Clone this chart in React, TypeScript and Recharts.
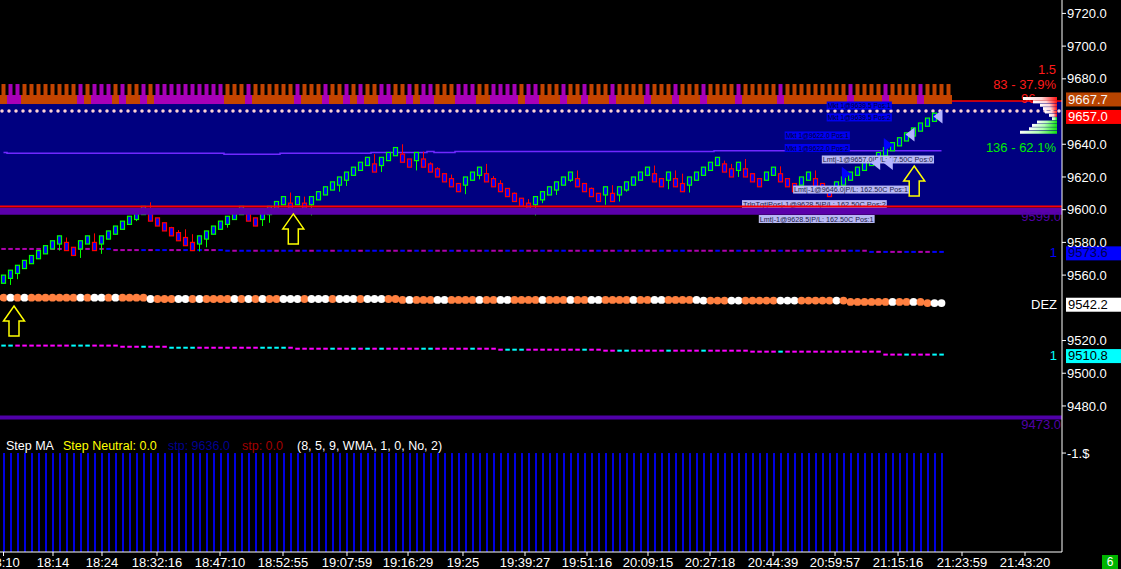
import React from 'react';
import {
  ComposedChart,
  BarChart,
  Bar,
  Line,
  Scatter,
  XAxis,
  YAxis,
  ReferenceLine,
  ReferenceArea,
  Cell,
} from 'recharts';

const FONT = "'Liberation Sans', Arial, sans-serif";

// price scale of the main pane
const PRICE_MIN = 9465.3;
const PRICE_MAX = 9728.2;
// 9540 and 9660 sit under the DEZ / last-price tags in the original
const priceTicks = [9480, 9500, 9520, 9560, 9580, 9600, 9620, 9640, 9680, 9700, 9720];
const SLOT_DOMAIN: [number, number] = [-0.5, 151.214];

// candles (one per slot)
const opens = [
  9555, 9558, 9561, 9564, 9567, 9570, 9573, 9576, 9579, 9580,
  9577, 9576, 9579, 9580, 9579, 9582, 9585, 9588, 9591, 9594,
  9597, 9598, 9595, 9592, 9589, 9586, 9583, 9580, 9579, 9582,
  9585, 9588, 9591, 9594, 9597, 9598, 9595, 9594, 9597, 9600,
  9603, 9604, 9603, 9604, 9603, 9606, 9609, 9612, 9615, 9618,
  9621, 9624, 9627, 9628, 9627, 9630, 9633, 9634, 9631, 9630,
  9631, 9628, 9625, 9622, 9619, 9616, 9615, 9618, 9621, 9622,
  9619, 9616, 9613, 9610, 9607, 9604, 9603, 9606, 9609, 9612,
  9615, 9618, 9619, 9616, 9613, 9610, 9609, 9610, 9609, 9612,
  9615, 9618, 9621, 9622, 9619, 9618, 9619, 9616, 9615, 9618,
  9621, 9624, 9627, 9628, 9625, 9624, 9625, 9622, 9619, 9618,
  9621, 9622, 9619, 9616, 9615, 9618, 9619, 9616, 9613, 9612,
  9615, 9618, 9621, 9624, 9627, 9630, 9633, 9636, 9639, 9642,
  9645, 9648, 9651, 9654,
];
const closes = [
  9560, 9563, 9566, 9569, 9572, 9575, 9578, 9581, 9584, 9575,
  9572, 9581, 9584, 9575, 9584, 9587, 9590, 9593, 9596, 9599,
  9602, 9593, 9590, 9587, 9584, 9581, 9578, 9575, 9584, 9587,
  9590, 9593, 9596, 9599, 9602, 9593, 9590, 9599, 9602, 9605,
  9608, 9599, 9608, 9599, 9608, 9611, 9614, 9617, 9620, 9623,
  9626, 9629, 9632, 9623, 9632, 9635, 9638, 9629, 9626, 9635,
  9626, 9623, 9620, 9617, 9614, 9611, 9620, 9623, 9626, 9617,
  9614, 9611, 9608, 9605, 9602, 9599, 9608, 9611, 9614, 9617,
  9620, 9623, 9614, 9611, 9608, 9605, 9614, 9605, 9614, 9617,
  9620, 9623, 9626, 9617, 9614, 9623, 9614, 9611, 9620, 9623,
  9626, 9629, 9632, 9623, 9620, 9629, 9620, 9617, 9614, 9623,
  9626, 9617, 9614, 9611, 9620, 9623, 9614, 9611, 9608, 9617,
  9620, 9623, 9626, 9629, 9632, 9635, 9638, 9641, 9644, 9647,
  9650, 9653, 9656, 9659,
];
const highs = [
  9560, 9563, 9566, 9569, 9572, 9575, 9578, 9581, 9584, 9583,
  9577, 9581, 9584, 9585.5, 9584, 9587, 9590, 9593, 9596, 9599,
  9602, 9604.5, 9595, 9592, 9589.5, 9587.5, 9588, 9585, 9584, 9587,
  9590, 9593, 9596, 9599, 9602, 9598, 9595, 9599, 9602, 9605,
  9608, 9610.5, 9608, 9608, 9608, 9611, 9614, 9617, 9620, 9623,
  9626, 9629, 9632, 9634, 9632, 9635, 9638, 9640, 9631, 9635,
  9635.5, 9629, 9626, 9622, 9621.5, 9616, 9620, 9623, 9626, 9628,
  9620.5, 9618, 9613, 9610.5, 9607, 9606.5, 9608, 9611, 9614, 9617,
  9620, 9623, 9624, 9616, 9613.5, 9610, 9614, 9615, 9614, 9617,
  9620, 9623, 9626, 9627, 9619, 9623, 9624, 9622, 9620, 9623,
  9626, 9629, 9632, 9630, 9628, 9629, 9631, 9622, 9619, 9623,
  9626, 9626.5, 9619, 9616, 9620, 9623, 9624, 9616, 9613, 9617,
  9620, 9623, 9626, 9629, 9632, 9635, 9638, 9641, 9644, 9647,
  9650, 9653, 9656, 9659,
];
const lows = [
  9555, 9554, 9557.5, 9564, 9567, 9570, 9573, 9576, 9575, 9575,
  9572, 9570.5, 9579, 9575, 9573, 9582, 9585, 9588, 9591, 9593,
  9597, 9593, 9590, 9587, 9584, 9581, 9578, 9575, 9574.5, 9577,
  9585, 9588, 9589, 9594, 9597, 9593, 9590, 9590, 9592, 9600,
  9603, 9599, 9603, 9599, 9596.5, 9606, 9609, 9612, 9611, 9614.5,
  9621, 9624, 9627, 9623, 9623, 9630, 9633, 9629, 9626, 9624,
  9626, 9623, 9620, 9617, 9614, 9611, 9609.5, 9618, 9618.5, 9617,
  9614, 9611, 9608, 9605, 9602, 9599, 9596.5, 9604, 9609, 9609,
  9615, 9617, 9614, 9611, 9608, 9605, 9603, 9605, 9605, 9611,
  9615, 9618, 9620.5, 9617, 9614, 9612.5, 9614, 9611, 9610.5, 9618,
  9621, 9624, 9627, 9623, 9620, 9620, 9620, 9617, 9614, 9618,
  9621, 9617, 9614, 9611, 9615, 9618, 9614, 9611, 9608, 9612,
  9615, 9618, 9621, 9624, 9627, 9630, 9633, 9636, 9639, 9642,
  9645, 9648, 9651, 9654,
];

// step lines: [first slot, level]
const maSteps: [number, number][] = [
  [0, 9635.0], [1, 9634.5], [32, 9633.9], [40, 9634.5], [53, 9635.0],
  [61, 9635.5], [62, 9635.0], [65, 9635.5], [102, 9636.0],
];
const bandUpSteps: [number, number][] = [[0, 9576.0], [16, 9575.3], [32, 9574.9], [124, 9574.2]];
const dezSteps: [number, number][] = [
  [0, 9546.2], [21, 9545.4], [57, 9544.8], [100, 9544.4], [121, 9543.6], [132, 9542.9],
];
const bandDnSteps: [number, number][] = [
  [0, 9516.9], [17, 9516.2], [24, 9515.6], [42, 9515.0], [71, 9514.4],
  [86, 9513.8], [107, 9513.2], [126, 9511.4],
];
const LINE_SLOTS = 135;

// indicator states per slot
const COMB_LEVEL = 9664.6;
const combTrend = [
  'duuddddddd', 'duduuududd', 'uduuuuuuuu', 'uudddudddd', 'dduddduddu',
  'dudduuddud', 'uuddduuudd', 'uuuuduuddd', 'uddudddudd', 'dduddduddd',
  'uddddudddd', 'dudddddddd', 'dudddduddd', 'dudddd',
].join('');
const dezState = [
  'owowoooooo', 'owowwowooo', 'owooowwowo', 'ooowowowoo', 'wwwowwwoww',
  'wowwwooowo', 'oowwoooowo', 'owwoooowoo', 'owoowwoooo', 'woowwoooow',
  'wooowwoooo', 'owwwooooow', 'ooooooowoo', 'wooww',
].join('');
const bandUpState = [
  'mmmmmmmmmm', 'mmmmmbmmmm', 'bmbbmmbmbm', 'mbbmbbmbbm', 'bbmbmbbmbb',
  'bmbbbmmbmb', 'mbmmbmbmmb', 'mmbmbmmbmb', 'bmmbmbmmbm', 'mbmmbmbbmm',
  'mmbmmbmmbm', 'mbmmbmmbmm', 'mbbmbmbmmb', 'bmmbb',
].join('');
const bandDnState = [
  'ccpppppppp', 'cccppppppp', 'cpppccccpp', 'pppppppccc', 'cppppppcpp',
  'cpcpcppppp', 'ccpppppcpp', 'ppcccppppp', 'pppcppppcc', 'pppppcpppp',
  'cppppppppp', 'pcpppppppp', 'pppppppppc', 'pppcc',
].join('');

// lower pane histogram (Step MA)
const stepHist = [
  -1, -1, -1, -1, -1, -1, -1, -1, -1, -1, -1, -1, -1, -1, -1,
  -1, -1, -1, -1, -1, -1, -1, -1, -1, -1, -1, -1, -1, -1, -1,
  -1, -1, -1, -1, -1, -1, -1, -1, -1, -1, -1, -1, -1, -1, -1,
  -1, -1, -1, -1, -1, -1, -1, -1, -1, -1, -1, -1, -1, -1, -1,
  -1, -1, -1, -1, -1, -1, -1, -1, -1, -1, -1, -1, -1, -1, -1,
  -1, -1, -1, -1, -1, -1, -1, -1, -1, -1, -1, -1, -1, -1, -1,
  -1, -1, -1, -1, -1, -1, -1, -1, -1, -1, -1, -1, -1, -1, -1,
  -1, -1, -1, -1, -1, -1, -1, -1, -1, -1, -1, -1, -1, -1, -1,
  -1, -1, -1, -1, -1, -1, -1, -1, -1, -1, -1, -1, -1, -1, -1,
];
const HIST_FLOOR = -2;

// time axis
const timeTickSlots = [
  0, 7.07, 14.07, 21.93, 30.93, 39.93, 49.07, 57.79, 65.64,
  74.5, 83.36, 92.07, 100.93, 109.93, 118.79, 127.79, 136.93, 145.93,
];
const timeTickLabels = [
  '18:10', '18:14', '18:24', '18:32:16', '18:47:10', '18:52:55', '19:07:59', '19:16:29', '19:25',
  '19:39:27', '19:51:16', '20:09:15', '20:27:18', '20:44:39', '20:59:57', '21:15:16', '21:23:59', '21:43:20',
];

// signals and trades
const signalArrows = [
  { slot: 1.5, price: 9541.1 },
  { slot: 41.4, price: 9597.4 },
  { slot: 130.1, price: 9626.7 },
];
const entries = [
  { slot: 120.4, price: 9622.0 },
  { slot: 126.4, price: 9639.5 },
];
const exits = [
  { slot: 124.6, price: 9628.5 },
  { slot: 126.4, price: 9628.5 },
  { slot: 129.5, price: 9646.0 },
  { slot: 133.5, price: 9657.0 },
];
const orderLabels = [
  { slot: 117.6, price: 9663.7, kind: 'mkt', text: 'Mkt 1@9639.5 Pos:1' },
  { slot: 117.6, price: 9656.4, kind: 'mkt', text: 'Mkt 1@9639.5 Pos:2' },
  { slot: 111.6, price: 9645.4, kind: 'mkt', text: 'Mkt 1@9622.0 Pos:1' },
  { slot: 111.6, price: 9637.7, kind: 'mkt', text: 'Mkt 1@9622.0 Pos:2' },
  { slot: 116.9, price: 9630.7, kind: 'lmt', text: 'Lmt|-1@9657.0|P/L: 37.50C Pos:0' },
  { slot: 112.8, price: 9612.3, kind: 'lmt', text: 'Lmt|-1@9646.0|P/L: 162.50C Pos:1' },
  { slot: 107.9, price: 9594.3, kind: 'lmt', text: 'Lmt|-1@9628.5|P/L: 162.50C Pos:1' },
];
// this one is half hidden behind the 9599 band
const trailLabels = [
  { slot: 105.5, price: 9603.4, kind: 'lmt', text: 'TrlnTgt|Pos|-1@9628.5|P/L: 162.50C Pos:2' },
];

// small volume profile at the right edge (top to bottom)
const profileVolume = [34, 24, 17, 14, 12, 8, 5, 20, 25, 28, 37];
const profileSide = ['s', 's', 's', 's', 's', 's', 'b', 'b', 'b', 'b', 'b'];

// price tags on the right axis
const axisTags = [
  { price: 9667.7, box: '#b84400', fg: '#f4f4f4' },
  { price: 9657.0, box: '#ff0000', fg: '#ffffff' },
  { price: 9573.6, box: '#0000ff', fg: '#000050', side: '1', sideColor: '#0000ff' },
  { price: 9542.2, box: '#ffffff', fg: '#000000', side: 'DEZ', sideColor: '#ffffff' },
  { price: 9510.8, box: '#00ffff', fg: '#000000', side: '1', sideColor: '#00ffff' },
];

const expandSteps = (steps: [number, number][], count: number) => {
  const out: number[] = [];
  let k = 0;
  for (let i = 0; i < count; i++) {
    while (k + 1 < steps.length && steps[k + 1][0] <= i) k++;
    out.push(steps[k][1]);
  }
  return out;
};

const candleRows = opens.map((o, i) => ({ slot: i, o, c: closes[i], h: highs[i], l: lows[i] }));
const combRows = combTrend.split('').map((t, i) => ({ slot: i, v: COMB_LEVEL, up: t === 'u' }));
const maRows = expandSteps(maSteps, LINE_SLOTS).map((v, i) => ({ slot: i, v }));
const bandUpRows = expandSteps(bandUpSteps, LINE_SLOTS).map((v, i) => ({ slot: i, v, s: bandUpState[i] }));
const dezRows = expandSteps(dezSteps, LINE_SLOTS).map((v, i) => ({ slot: i, v, s: dezState[i] }));
const bandDnRows = expandSteps(bandDnSteps, LINE_SLOTS).map((v, i) => ({ slot: i, v, s: bandDnState[i] }));
const histRows = stepHist.map((v, i) => ({ slot: i, v }));
const profileRows = profileVolume.map((v, i) => ({ lvl: i, v, side: profileSide[i] }));

const CandleShape = (props: any) => {
  const { x, y, width, height, payload } = props;
  if (!payload || x == null || y == null || height == null) return <g />;
  const top = Math.min(y, y + height);
  const span = Math.abs(height);
  const { o, c, h, l } = payload;
  const toY = (p: number) => top + ((h - p) / (h - l)) * span;
  const color = c >= o ? '#00ff00' : '#ff0000';
  const cx = Math.floor(x + width / 2) + 0.5;
  const bodyTop = toY(Math.max(o, c));
  const bodyBottom = toY(Math.min(o, c));
  return (
    <g>
      <line x1={cx} x2={cx} y1={top} y2={top + span} stroke={color} strokeWidth={1} />
      <rect x={cx - 2} y={bodyTop} width={4} height={Math.max(1, bodyBottom - bodyTop)} fill="#0000ff" stroke={color} strokeWidth={1.2} />
    </g>
  );
};

const CombShape = ({ cx, cy, payload }: any) => {
  if (cx == null || cy == null) return <g />;
  const color = payload.up ? '#a800b8' : '#c44400';
  return (
    <g>
      <rect x={cx - 2} y={cy - 20} width={4} height={20} fill={color} />
      <rect x={cx - 3.5} y={cy - 9} width={7} height={9} fill={color} />
    </g>
  );
};

const dashShape = (colors: Record<string, string>) => ({ cx, cy, payload }: any) => {
  if (cx == null || cy == null) return <g />;
  return <rect x={cx - 2.2} y={cy - 1} width={4.5} height={2} fill={colors[payload.s]} />;
};

const DezShape = ({ cx, cy, payload }: any) => {
  if (cx == null || cy == null) return <g />;
  return <circle cx={cx} cy={cy} r={3.9} fill={payload.s === 'w' ? '#ffffff' : '#ff8040'} />;
};

const ArrowShape = ({ cx, cy }: any) => {
  if (cx == null || cy == null) return <g />;
  const d = `M${cx},${cy} L${cx + 10.5},${cy + 15} L${cx + 5},${cy + 15} L${cx + 5},${cy + 30} L${cx - 5},${cy + 30} L${cx - 5},${cy + 15} L${cx - 10.5},${cy + 15} Z`;
  return <path d={d} fill="none" stroke="#ffff00" strokeWidth={1.5} />;
};

const EntryShape = ({ cx, cy }: any) => {
  if (cx == null || cy == null) return <g />;
  return <path d={`M${cx - 4.5},${cy - 7} L${cx + 4.5},${cy} L${cx - 4.5},${cy + 7} Z`} fill="#0000ff" />;
};

const ExitShape = ({ cx, cy }: any) => {
  if (cx == null || cy == null) return <g />;
  return <path d={`M${cx + 4.5},${cy - 7} L${cx - 4.5},${cy} L${cx + 4.5},${cy + 7} Z`} fill="#b4b4ff" />;
};

const OrderLabelShape = ({ cx, cy, payload }: any) => {
  if (cx == null || cy == null) return <g />;
  const mkt = payload.kind === 'mkt';
  const w = payload.text.length * 3.62;
  return (
    <g>
      <rect x={cx} y={cy - 4} width={w} height={8} fill={mkt ? '#0000f0' : '#b8b8f4'} />
      <text
        x={cx + 1}
        y={cy + 2.6}
        fontSize={7}
        fontFamily={FONT}
        fill={mkt ? '#00002a' : '#1c1c48'}
        textLength={w - 2}
        lengthAdjust="spacingAndGlyphs"
      >
        {payload.text}
      </text>
    </g>
  );
};

const tagLabel = (tag: any) => (props: any) => {
  const vb = props.viewBox || {};
  const right = (vb.x || 0) + (vb.width || 0);
  const y = vb.y || 0;
  return (
    <g>
      <rect x={right + 4} y={y - 6.5} width={60} height={14} fill={tag.box} />
      <text x={right + 6} y={y + 4.6} fill={tag.fg} fontSize={13} fontFamily={FONT}>
        {tag.price.toFixed(1)}
      </text>
      {tag.side && (
        <text x={right - 5} y={y + 4.6} textAnchor="end" fill={tag.sideColor} fontSize={13} fontFamily={FONT}>
          {tag.side}
        </text>
      )}
    </g>
  );
};

const belowLabel = (text: string, dy: number) => (props: any) => {
  const vb = props.viewBox || {};
  const right = (vb.x || 0) + (vb.width || 0);
  return (
    <text x={right - 1} y={(vb.y || 0) + dy} textAnchor="end" fill="#5000a8" fontSize={13} fontFamily={FONT}>
      {text}
    </text>
  );
};

const txt = (left: number, top: number, color: string, size = 13): React.CSSProperties => ({
  position: 'absolute',
  left,
  top,
  color,
  fontSize: size,
  fontFamily: FONT,
  whiteSpace: 'nowrap',
  lineHeight: '14px',
});

const rtxt = (right: number, top: number, color: string): React.CSSProperties => ({
  position: 'absolute',
  right: 1121 - right,
  top,
  color,
  fontSize: 13,
  fontFamily: FONT,
  whiteSpace: 'nowrap',
  lineHeight: '14px',
});

const axisTick = { fill: '#ffffff', fontSize: 13, fontFamily: FONT };

const App = () => (
  <div style={{ position: 'absolute', left: 0, top: 0, width: 1121, height: 569, background: '#000000', overflow: 'hidden' }}>
    <div style={{ position: 'absolute', left: 0, top: 0 }}>
      <ComposedChart width={1121} height={440} data={candleRows} margin={{ top: 0, right: 0, bottom: 10, left: 0 }}>
        <XAxis type="number" dataKey="slot" domain={SLOT_DOMAIN} allowDataOverflow hide />
        <YAxis
          type="number"
          orientation="right"
          width={59}
          domain={[PRICE_MIN, PRICE_MAX]}
          allowDataOverflow
          ticks={priceTicks}
          interval={0}
          tickFormatter={(v: number) => v.toFixed(1)}
          tick={axisTick}
          tickSize={4}
          tickMargin={1}
          axisLine={{ stroke: '#ffffff' }}
          tickLine={{ stroke: '#ffffff' }}
        />
        <ReferenceArea y1={9602} y2={9666.5} fill="#000080" fillOpacity={1} stroke="none" zIndex={100} />
        <ReferenceLine y={9666.5} stroke="#ff0000" strokeWidth={1.5} zIndex={105} />
        <ReferenceLine
          y={9660.3}
          stroke="#ffd4d4"
          strokeWidth={3.5}
          strokeDasharray="0 7"
          strokeDashoffset={-3}
          strokeLinecap="round"
          zIndex={110}
        />
        <Scatter data={combRows} dataKey="v" shape={CombShape} isAnimationActive={false} zIndex={120} />
        <Line
          data={maRows}
          dataKey="v"
          type="step"
          stroke="#7028ff"
          strokeWidth={1.5}
          dot={false}
          activeDot={false}
          isAnimationActive={false}
          zIndex={130}
        />
        <Scatter data={bandUpRows} dataKey="v" shape={dashShape({ m: '#b000b0', b: '#0000ff' })} isAnimationActive={false} zIndex={140} />
        <Scatter data={dezRows} dataKey="v" shape={DezShape} isAnimationActive={false} zIndex={140} />
        <Scatter data={bandDnRows} dataKey="v" shape={dashShape({ p: '#ff00ff', c: '#00ffff' })} isAnimationActive={false} zIndex={140} />
        <Bar dataKey={(d: any) => [d.l, d.h]} barSize={5} shape={CandleShape} isAnimationActive={false} zIndex={200} />
        <Scatter data={trailLabels} dataKey="price" shape={OrderLabelShape} isAnimationActive={false} zIndex={230} />
        <ReferenceLine y={9602} stroke="#ff0000" strokeWidth={2} zIndex={250} />
        <ReferenceLine y={9599} stroke="#5a00aa" strokeWidth={7} label={belowLabel('9599.0', 10)} zIndex={250} />
        <ReferenceLine y={9473} stroke="#5000a8" strokeWidth={4} label={belowLabel('9473.0', 12)} zIndex={250} />
        <Scatter data={signalArrows} dataKey="price" shape={ArrowShape} isAnimationActive={false} zIndex={300} />
        <Scatter data={orderLabels} dataKey="price" shape={OrderLabelShape} isAnimationActive={false} zIndex={300} />
        <Scatter data={entries} dataKey="price" shape={EntryShape} isAnimationActive={false} zIndex={310} />
        <Scatter data={exits} dataKey="price" shape={ExitShape} isAnimationActive={false} zIndex={310} />
        {axisTags.map((t) => (
          <ReferenceLine key={t.price} y={t.price} stroke="none" label={tagLabel(t)} zIndex={600} />
        ))}
      </ComposedChart>
    </div>

    <div style={{ position: 'absolute', left: 0, top: 430 }}>
      <ComposedChart width={1121} height={139} data={histRows} margin={{ top: 0, right: 0, bottom: 0, left: 0 }}>
        <XAxis
          type="number"
          dataKey="slot"
          domain={SLOT_DOMAIN}
          allowDataOverflow
          ticks={timeTickSlots}
          interval={0}
          height={17}
          tickFormatter={(v: number) => timeTickLabels[timeTickSlots.indexOf(v)] ?? ''}
          tick={axisTick}
          tickSize={4}
          tickMargin={2}
          axisLine={{ stroke: '#ffffff' }}
          tickLine={{ stroke: '#ffffff' }}
        />
        <YAxis
          type="number"
          orientation="right"
          width={59}
          domain={[HIST_FLOOR, -0.767]}
          allowDataOverflow
          ticks={[-1]}
          tickFormatter={(v: number) => `${v}.$`}
          tick={axisTick}
          tickSize={4}
          tickMargin={1}
          axisLine={{ stroke: '#ffffff' }}
          tickLine={{ stroke: '#ffffff' }}
        />
        <Bar dataKey={(d: any) => [HIST_FLOOR, d.v]} barSize={2} fill="#0000e0" isAnimationActive={false} />
      </ComposedChart>
    </div>

    {/* right side indicator readouts */}
    <div style={txt(1038, 63, '#ff1a1a')}>1.5</div>
    <div style={rtxt(1056, 78, '#ff1a1a')}>83 - 37.9%</div>
    <div style={txt(1021, 92, '#ff1a1a')}>96</div>
    <div style={rtxt(1056, 141, '#00ee00')}>136 - 62.1%</div>

    <div style={{ position: 'absolute', left: 1017, top: 97 }}>
      <BarChart width={40} height={37} data={profileRows} layout="vertical" margin={{ top: 0, right: 0, bottom: 0, left: 0 }} barCategoryGap={0}>
        <defs>
          <linearGradient id="sellGrad" x1="0" y1="0" x2="1" y2="0">
            <stop offset="0%" stopColor="#ffffff" />
            <stop offset="55%" stopColor="#ffd6d6" />
            <stop offset="100%" stopColor="#ff1010" />
          </linearGradient>
          <linearGradient id="buyGrad" x1="0" y1="0" x2="1" y2="0">
            <stop offset="0%" stopColor="#ffffff" />
            <stop offset="50%" stopColor="#b0ffb0" />
            <stop offset="100%" stopColor="#10e010" />
          </linearGradient>
        </defs>
        <XAxis type="number" domain={[0, 40]} reversed hide />
        <YAxis type="category" dataKey="lvl" hide />
        <Bar dataKey="v" isAnimationActive={false}>
          {profileRows.map((r) => (
            <Cell key={r.lvl} fill={r.side === 's' ? 'url(#sellGrad)' : 'url(#buyGrad)'} />
          ))}
        </Bar>
      </BarChart>
    </div>

    {/* lower pane title */}
    <div style={txt(6, 439, '#ffffff', 12.5)}>Step MA</div>
    <div style={txt(63, 439, '#ffff00', 12.5)}>Step Neutral: 0.0</div>
    <div style={txt(168, 439, '#000090', 12.5)}>stp: 9636.0</div>
    <div style={txt(242, 439, '#a00000', 12.5)}>stp: 0.0</div>
    <div style={txt(297, 439, '#ffffff', 12.5)}>(8, 5, 9, WMA, 1, 0, No, 2)</div>

    <div
      style={{
        position: 'absolute',
        left: 1102,
        top: 555,
        width: 16,
        height: 14,
        background: '#00b400',
        color: '#ffffff',
        fontSize: 12,
        fontFamily: FONT,
        textAlign: 'center',
        lineHeight: '14px',
      }}
    >
      6
    </div>
  </div>
);

export default App;
